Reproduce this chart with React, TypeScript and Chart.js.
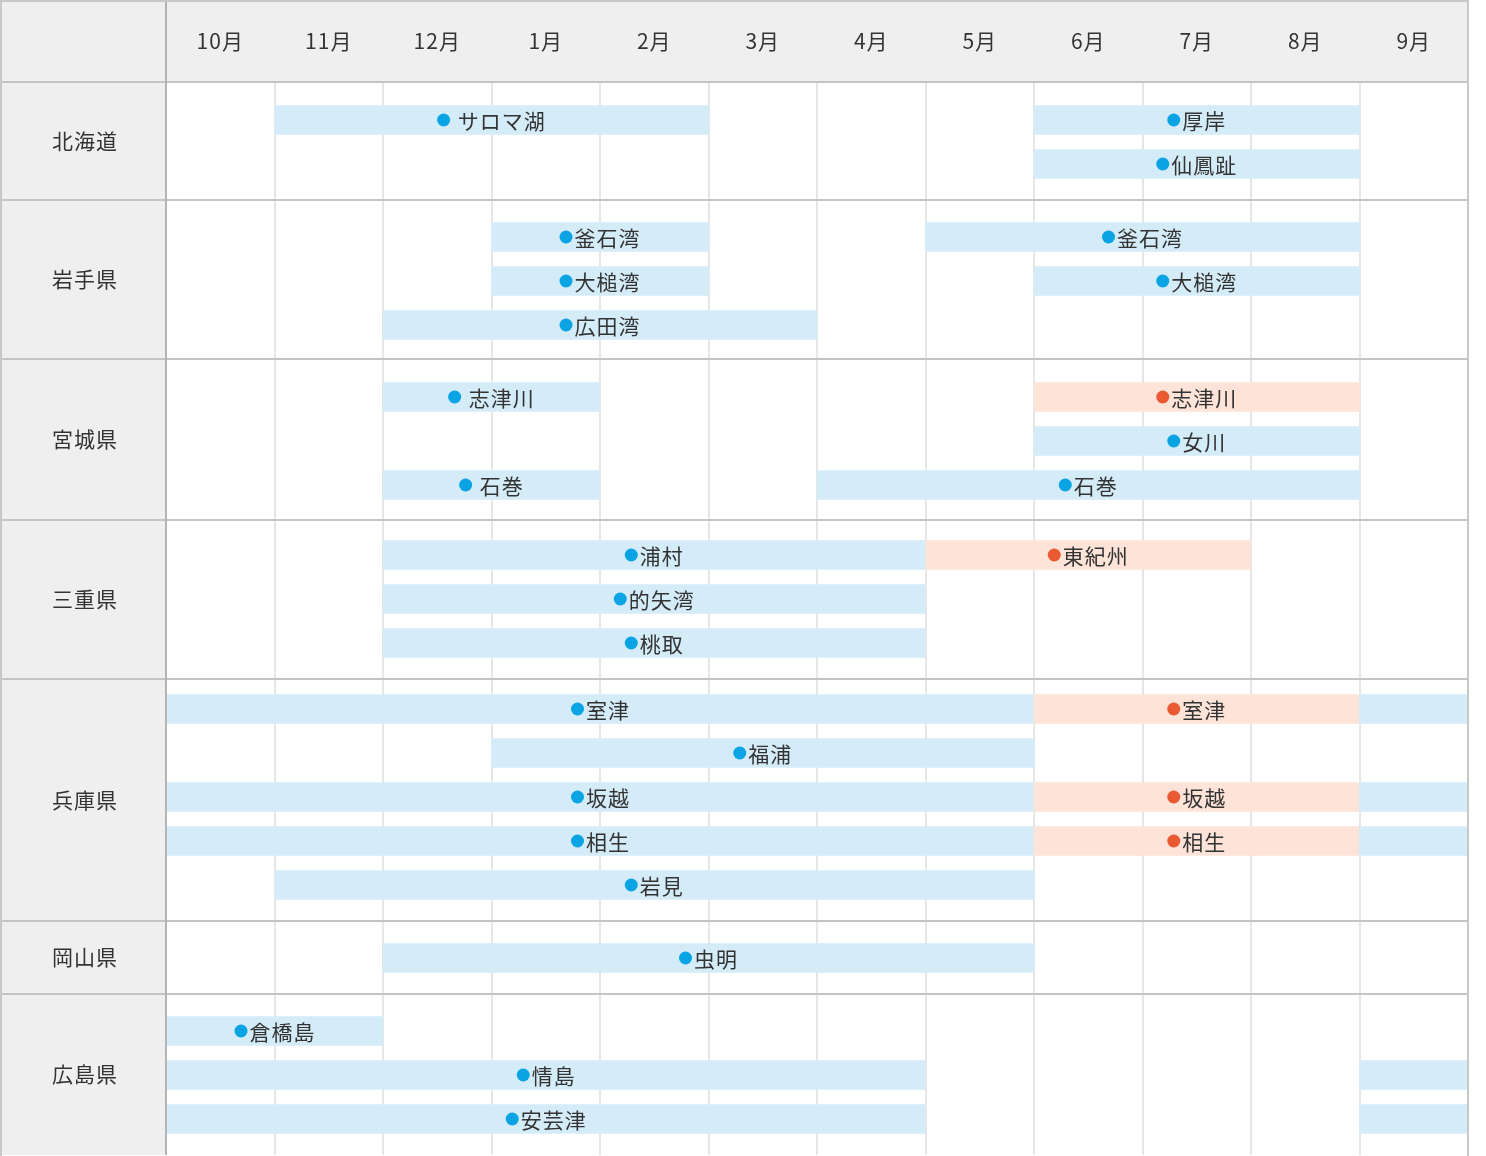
import React, { useEffect, useRef } from "react";
import { Chart, registerables } from "chart.js";

Chart.register(...registerables);

// ---- data ----
const months = ["10月", "11月", "12月", "1月", "2月", "3月", "4月", "5月", "6月", "7月", "8月", "9月"];
const prefectures = ["北海道", "岩手県", "宮城県", "三重県", "兵庫県", "岡山県", "広島県"];
const slotCounts = [2, 3, 3, 3, 5, 1, 3];

// each bar: prefecture index, slot in prefecture, start month index, end month index (exclusive), name, kind
const barPref = [0, 0, 0, 1, 1, 1, 1, 1, 2, 2, 2, 2, 2, 3, 3, 3, 3, 4, 4, 4, 4, 4, 4, 4, 4, 4, 4, 4, 5, 6, 6, 6, 6, 6];
const barSlot = [0, 0, 1, 0, 0, 1, 1, 2, 0, 0, 1, 2, 2, 0, 0, 1, 2, 0, 0, 0, 1, 2, 2, 2, 3, 3, 3, 4, 0, 0, 1, 1, 2, 2];
const barStart = [1, 8, 8, 3, 7, 3, 8, 2, 2, 8, 8, 2, 6, 2, 7, 2, 2, 0, 8, 11, 3, 0, 8, 11, 0, 8, 11, 1, 2, 0, 0, 11, 0, 11];
const barEnd = [5, 11, 11, 5, 11, 5, 11, 6, 4, 11, 11, 4, 11, 7, 10, 7, 7, 8, 11, 12, 8, 8, 11, 12, 8, 11, 12, 8, 8, 2, 7, 12, 7, 12];
const barName = [
  " サロマ湖", "厚岸", "仙鳳趾",
  "釜石湾", "釜石湾", "大槌湾", "大槌湾", "広田湾",
  " 志津川", "志津川", "女川", " 石巻", "石巻",
  "浦村", "東紀州", "的矢湾", "桃取",
  "室津", "室津", "", "福浦", "坂越", "坂越", "", "相生", "相生", "", "岩見",
  "虫明",
  "倉橋島", "情島", "", "安芸津", "",
];
const barKind = [
  "b", "b", "b",
  "b", "b", "b", "b", "b",
  "b", "o", "b", "b", "b",
  "b", "o", "b", "b",
  "b", "o", "b", "b", "b", "o", "b", "b", "o", "b", "b",
  "b",
  "b", "b", "b", "b", "b",
];

// ---- layout / style ----
const W = 1486;
const H = 1156;
const HEADER_H = 82;
const LEFT_W = 166;
const TABLE_RIGHT = 1468;
const TABLE_BOTTOM = 1155;
const SLOT_PITCH = 44;
const GROUP_H = [118, 159, 161, 159, 242, 73, 161];
const FIRST_SLOT_OFFSET = [38, 37, 38, 35, 30, 37, 37];
const FONT = "'Noto Sans CJK JP', 'Noto Sans', sans-serif";
const FONT_SIZE = 21;
const TEXT_COLOR = "#333333";
const FILL = { b: "#d4ebf8", o: "#fde3d8" } as Record<string, string>;
const DOT = { b: "#0aa4e4", o: "#ea5a32" } as Record<string, string>;

const groupTops: number[] = [];
{
  let acc = 0;
  GROUP_H.forEach((h) => {
    groupTops.push(acc);
    acc += h;
  });
}
const TOTAL = GROUP_H.reduce((a, b) => a + b, 0);
const slotCenter = (p: number, s: number) => groupTops[p] + FIRST_SLOT_OFFSET[p] + s * SLOT_PITCH;

const framePlugin = {
  id: "frame",
  beforeDraw(chart: any) {
    const ctx = chart.ctx;
    ctx.letterSpacing = "1px";
    ctx.save();
    ctx.fillStyle = "#ffffff";
    ctx.fillRect(0, 0, W, H);
    ctx.fillStyle = "#efefef";
    ctx.fillRect(0, 0, TABLE_RIGHT, HEADER_H);
    ctx.fillRect(0, 0, LEFT_W, TABLE_BOTTOM);
    ctx.restore();
  },
  afterDatasetsDraw(chart: any) {
    const ctx = chart.ctx;
    const meta = chart.getDatasetMeta(0);
    ctx.save();
    ctx.font = `${FONT_SIZE}px ${FONT}`;
    ctx.textBaseline = "middle";
    ctx.textAlign = "left";
    meta.data.forEach((el: any, i: number) => {
      const name = barName[i];
      if (!name) return;
      const props = el.getProps(["x", "y", "base"], true);
      const cx = (props.x + props.base) / 2;
      const cy = props.y;
      const r = 6.5;
      const gap = 2;
      const tw = ctx.measureText(name).width;
      const total = 2 * r + gap + tw;
      const x0 = cx - total / 2;
      ctx.fillStyle = DOT[barKind[i]];
      ctx.beginPath();
      ctx.arc(x0 + r, cy, r, 0, Math.PI * 2);
      ctx.fill();
      ctx.fillStyle = TEXT_COLOR;
      ctx.fillText(name, x0 + 2 * r + gap, cy + 1);
    });
    ctx.restore();
  },
  afterDraw(chart: any) {
    const ctx = chart.ctx;
    const ys = chart.scales.y;
    ctx.save();
    ctx.strokeStyle = "#c4c4c4";
    ctx.lineWidth = 2;
    groupTops.forEach((t, i) => {
      if (i === 0) return;
      const py = Math.round(ys.getPixelForValue(t));
      ctx.beginPath();
      ctx.moveTo(0, py);
      ctx.lineTo(TABLE_RIGHT, py);
      ctx.stroke();
    });
    ctx.beginPath();
    ctx.moveTo(0, HEADER_H);
    ctx.lineTo(TABLE_RIGHT, HEADER_H);
    ctx.stroke();
    ctx.strokeStyle = "#b4b4b4";
    ctx.beginPath();
    ctx.moveTo(LEFT_W, 0);
    ctx.lineTo(LEFT_W, TABLE_BOTTOM);
    ctx.stroke();
    ctx.strokeStyle = "#c8c8c8";
    ctx.beginPath();
    ctx.moveTo(1, TABLE_BOTTOM + 2);
    ctx.lineTo(1, 1);
    ctx.lineTo(TABLE_RIGHT, 1);
    ctx.lineTo(TABLE_RIGHT, TABLE_BOTTOM + 2);
    ctx.stroke();
    ctx.restore();
  },
};

export default function App() {
  const ref = useRef<HTMLCanvasElement>(null);
  useEffect(() => {
    document.body.style.margin = "0";
    const canvas = ref.current!;
    const data = barStart.map((s, i) => ({ x: [s, barEnd[i]], y: slotCenter(barPref[i], barSlot[i]) }));
    const groupCenters = GROUP_H.map((h, i) => groupTops[i] + h / 2);
    const chart = new Chart(canvas, {
      type: "bar",
      data: {
        datasets: [
          {
            data: data as any,
            backgroundColor: barKind.map((k) => FILL[k]),
            borderWidth: 0,
            barThickness: 29,
          },
        ],
      },
      plugins: [framePlugin],
      options: {
        indexAxis: "y",
        responsive: false,
        animation: false,
        events: [],
        layout: { padding: { left: 0, top: 0, right: W - TABLE_RIGHT, bottom: H - TABLE_BOTTOM } },
        plugins: { legend: { display: false }, tooltip: { enabled: false }, title: { display: false } },
        scales: {
          x: {
            type: "linear",
            min: 0,
            max: 12,
            offset: false,
            position: "bottom",
            ticks: { display: false, stepSize: 1 },
            grid: { color: "#e6e6e6", lineWidth: 2, drawTicks: false },
            border: { display: false },
            afterFit(s: any) {
              s.height = 0;
              s.paddingLeft = 0;
              s.paddingRight = 0;
            },
          },
          xTop: {
            type: "linear",
            min: 0,
            max: 12,
            offset: false,
            position: "top",
            afterBuildTicks(s: any) {
              s.ticks = months.map((_, i) => ({ value: i + 0.5 }));
            },
            ticks: {
              autoSkip: false,
              maxRotation: 0,
              padding: 28,
              color: TEXT_COLOR,
              font: { family: FONT, size: FONT_SIZE },
              callback: (_v: any, i: number) => months[i],
            },
            grid: { display: false, drawTicks: false },
            border: { display: false },
            afterFit(s: any) {
              s.height = HEADER_H;
              s.paddingLeft = 0;
              s.paddingRight = 0;
            },
          },
          y: {
            type: "linear",
            min: 0,
            max: TOTAL,
            offset: false,
            bounds: "data",
            reverse: true,
            position: "left",
            afterBuildTicks(s: any) {
              s.ticks = groupCenters.map((v) => ({ value: v }));
            },
            ticks: {
              autoSkip: false,
              padding: 48,
              color: TEXT_COLOR,
              font: { family: FONT, size: FONT_SIZE },
              callback: (_v: any, i: number) => prefectures[i],
            },
            grid: { display: false, drawTicks: false },
            border: { display: false },
            afterFit(s: any) {
              s.width = LEFT_W;
              s.paddingTop = 0;
              s.paddingBottom = 0;
            },
          },
        },
      },
    });
    return () => chart.destroy();
  }, []);
  return <canvas ref={ref} width={W} height={H} style={{ display: "block" }} />;
}
